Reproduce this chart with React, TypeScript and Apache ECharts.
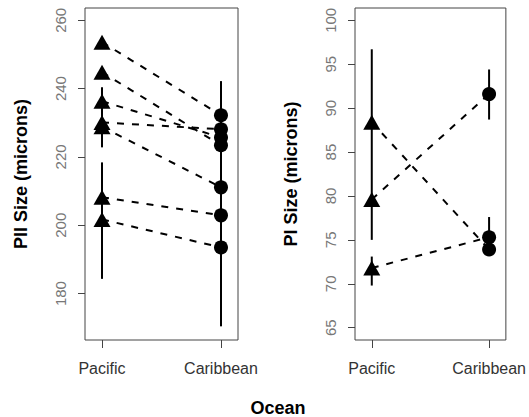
import React, { useEffect, useRef } from "react";
import * as echarts from "echarts";

const categories = ["Pacific", "Caribbean"];

// Left panel: PII size (microns)
const piiPacific = [253.6, 244.8, 236.3, 230.1, 228.8, 208.2, 201.7];
const piiCaribbean = [232.2, 223.4, 225.7, 228.1, 211.1, 202.9, 193.5];
const piiPacificBars = [[222.8, 240.4], [184.3, 218.4]];
const piiCaribbeanBars = [[170.4, 242.2]];
const piiTicks = [180, 200, 220, 240, 260];

// Right panel: PI size (microns)
const piPacific = [88.4, 79.6, 71.8];
const piCaribbean = [73.9, 91.6, 75.3];
const piPacificBars = [[75.0, 96.7], [69.8, 73.1]];
const piCaribbeanBars = [[88.7, 94.4], [73.6, 77.6]];
const piTicks = [65, 70, 75, 80, 85, 90, 95, 100];

const FONT = "'Liberation Sans', Arial, sans-serif";

function panelSeries(idx: number, pac: number[], car: number[], pacBars: number[][], carBars: number[][]) {
  const s: any[] = [];
  pacBars.forEach((b) =>
    s.push({
      type: "line", xAxisIndex: idx, yAxisIndex: idx, symbol: "none", silent: true,
      lineStyle: { color: "#000", width: 2 }, data: [[1, b[0]], [1, b[1]]],
    })
  );
  carBars.forEach((b) =>
    s.push({
      type: "line", xAxisIndex: idx, yAxisIndex: idx, symbol: "none", silent: true,
      lineStyle: { color: "#000", width: 2 }, data: [[2, b[0]], [2, b[1]]],
    })
  );
  pac.forEach((v, i) =>
    s.push({
      type: "line", xAxisIndex: idx, yAxisIndex: idx, symbol: "none", silent: true,
      lineStyle: { color: "#000", width: 2, type: [7, 8] }, data: [[1, v], [2, car[i]]],
    })
  );
  s.push({
    type: "scatter", xAxisIndex: idx, yAxisIndex: idx, symbol: "triangle", symbolSize: [17, 15],
    itemStyle: { color: "#000", opacity: 1 }, data: pac.map((v) => [1, v]),
  });
  s.push({
    type: "scatter", xAxisIndex: idx, yAxisIndex: idx, symbol: "circle", symbolSize: 14,
    itemStyle: { color: "#000", opacity: 1 }, data: car.map((v) => [2, v]),
  });
  return s;
}

function xAxis(idx: number) {
  return {
    type: "value", gridIndex: idx, min: 0.857, max: 2.143,
    axisLine: { show: false }, splitLine: { show: false },
    axisTick: { show: true, customValues: [1, 2], length: 8, lineStyle: { color: "#444", width: 1 } },
    axisLabel: {
      customValues: [1, 2], margin: 20, fontSize: 16, color: "#333", fontFamily: FONT,
      formatter: (v: number) => categories[Math.round(v) - 1] || "",
    },
  };
}

function yAxis(idx: number, min: number, max: number, ticks: number[], name: string) {
  return {
    type: "value", gridIndex: idx, min, max, name, nameLocation: "middle", nameGap: 55,
    nameTextStyle: { fontSize: 18, fontWeight: "bold", color: "#000", fontFamily: FONT },
    axisLine: { show: false }, splitLine: { show: false },
    axisTick: { show: true, customValues: ticks, length: 7, lineStyle: { color: "#444", width: 1 } },
    axisLabel: { customValues: ticks, rotate: 90, margin: 17, fontSize: 15, color: "#777", fontFamily: FONT },
  };
}

export default function App() {
  const ref = useRef<HTMLDivElement>(null);
  useEffect(() => {
    document.body.style.margin = "0";
    const chart = echarts.init(ref.current!, null, { renderer: "svg" });
    chart.setOption({
      animation: false,
      backgroundColor: "#fff",
      grid: [
        { left: 85, top: 8, width: 153, height: 332, show: true, borderColor: "#444", borderWidth: 1 },
        { left: 355, top: 8, width: 153, height: 332, show: true, borderColor: "#444", borderWidth: 1 },
      ],
      xAxis: [xAxis(0), xAxis(1)],
      yAxis: [
        yAxis(0, 166.4, 263.6, piiTicks, "PII Size (microns)"),
        yAxis(1, 63.6, 101.4, piTicks, "PI Size (microns)"),
      ],
      graphic: [
        {
          type: "text", x: 278, y: 408,
          style: { text: "Ocean", fontSize: 18, fontWeight: "bold", fill: "#000", fontFamily: FONT, align: "center", verticalAlign: "middle" },
        },
      ],
      series: [
        ...panelSeries(0, piiPacific, piiCaribbean, piiPacificBars, piiCaribbeanBars),
        ...panelSeries(1, piPacific, piCaribbean, piPacificBars, piCaribbeanBars),
      ],
    });
    return () => chart.dispose();
  }, []);
  return <div ref={ref} style={{ width: 529, height: 417 }} />;
}
